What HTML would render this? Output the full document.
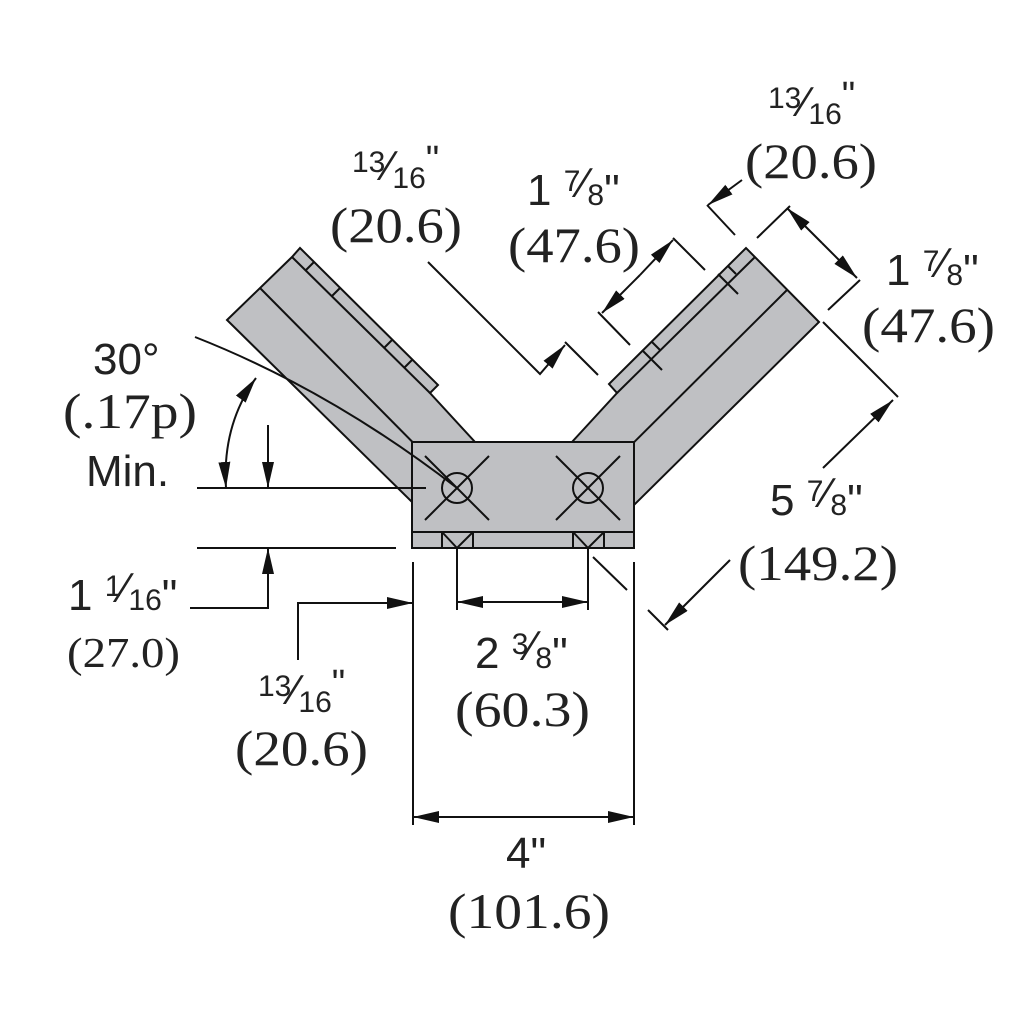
<!DOCTYPE html>
<html><head><meta charset="utf-8"><style>
html,body{margin:0;padding:0;background:#fff}
svg{display:block}
.s{font-family:"Liberation Sans",sans-serif;fill:#222}
.r{font-family:"Liberation Serif",serif;fill:#222}
</style></head><body>
<svg width="1024" height="1024" viewBox="0 0 1024 1024" xmlns="http://www.w3.org/2000/svg">
<defs>
<marker id="a" markerUnits="userSpaceOnUse" markerWidth="28" markerHeight="14" refX="26" refY="6" orient="auto-start-reverse">
<path d="M0,0 L26,6 L0,12 Z" fill="#111"/></marker>
</defs>
<g stroke="#111" stroke-width="2" fill="#bfc0c3" stroke-linejoin="miter">
<!-- left arm -->
<polygon points="227,320 292,257 300,248 438,385 430,393 475,442 412,442 412,502"/>
<line x1="292" y1="257" x2="430" y2="393"/>
<line x1="260" y1="288" x2="458" y2="488"/>
<line x1="314" y1="262" x2="306" y2="270"/><line x1="340" y1="288" x2="332" y2="296"/>
<line x1="392" y1="340" x2="384" y2="348"/><line x1="412" y1="360" x2="404" y2="368"/>
<!-- right arm -->
<polygon points="819,322 746,248 609,384 617,393 572,442 634,442 634,505"/>
<line x1="755" y1="257" x2="617" y2="393"/>
<line x1="787" y1="290" x2="588" y2="488"/>
<line x1="718" y1="274" x2="738" y2="294"/><line x1="728" y1="266" x2="736" y2="274"/>
<line x1="642" y1="350" x2="662" y2="370"/><line x1="652" y1="342" x2="660" y2="350"/>
<!-- bracket -->
<rect x="412" y="442" width="222" height="106"/>
<line x1="412" y1="532" x2="634" y2="532"/>
<line x1="442" y1="532" x2="442" y2="548"/><line x1="473" y1="532" x2="473" y2="548"/>
<line x1="573" y1="532" x2="573" y2="548"/><line x1="604" y1="532" x2="604" y2="548"/>
<polyline points="442,532 457,548 473,532" fill="none"/>
<polyline points="573,532 588,548 604,532" fill="none"/>
<circle cx="457" cy="488" r="15" fill="none"/><circle cx="588" cy="488" r="15" fill="none"/>
<line x1="425" y1="520" x2="489" y2="456"/><line x1="425" y1="456" x2="489" y2="520"/>
<line x1="556" y1="520" x2="620" y2="456"/><line x1="556" y1="456" x2="620" y2="520"/>
</g>
<g stroke="#111" stroke-width="2" fill="none">
<line x1="197" y1="488" x2="426" y2="488"/>
<line x1="197" y1="548" x2="396" y2="548"/>
<line x1="268" y1="425" x2="268" y2="488" marker-end="url(#a)"/>
<polyline points="190,608 268,608 268,548" marker-end="url(#a)"/>
<path d="M195,337 Q330,390 457,488"/>
<path d="M256,378 Q222,425 226,488" marker-start="url(#a)" marker-end="url(#a)"/>
<polyline points="298,660 298,603 413,603" marker-end="url(#a)"/>
<line x1="413" y1="562" x2="413" y2="825"/><line x1="634" y1="562" x2="634" y2="825"/>
<line x1="457" y1="548" x2="457" y2="610"/><line x1="588" y1="548" x2="588" y2="610"/>
<line x1="523" y1="602" x2="457" y2="602" marker-end="url(#a)"/>
<line x1="523" y1="602" x2="588" y2="602" marker-end="url(#a)"/>
<line x1="523" y1="817" x2="413" y2="817" marker-end="url(#a)"/>
<line x1="523" y1="817" x2="634" y2="817" marker-end="url(#a)"/>
<line x1="593" y1="557" x2="627" y2="590"/><line x1="648" y1="610" x2="668" y2="630"/>
<line x1="823" y1="322" x2="898" y2="397"/>
<line x1="823" y1="468" x2="893" y2="400" marker-end="url(#a)"/>
<line x1="730" y1="560" x2="665" y2="625" marker-end="url(#a)"/>
<polyline points="428,262 540,374 565,345" marker-end="url(#a)"/>
<line x1="565" y1="342" x2="598" y2="375"/>
<line x1="673" y1="238" x2="705" y2="270"/><line x1="598" y1="312" x2="630" y2="345"/>
<line x1="640" y1="275" x2="673" y2="240" marker-end="url(#a)"/>
<line x1="640" y1="275" x2="602" y2="313" marker-end="url(#a)"/>
<line x1="707" y1="205" x2="735" y2="235"/>
<line x1="757" y1="238" x2="790" y2="206"/>
<line x1="828" y1="310" x2="860" y2="280"/>
<line x1="742" y1="180" x2="708" y2="205" marker-end="url(#a)"/>
<line x1="822" y1="243" x2="787" y2="208" marker-end="url(#a)"/>
<line x1="822" y1="243" x2="857" y2="278" marker-end="url(#a)"/>
</g>
<g font-size="44">
<text class="s" x="352" y="172" font-size="30">13<tspan font-size="42" dy="8">⁄</tspan><tspan font-size="30" dy="8">16</tspan><tspan font-size="38" dy="-16">"</tspan></text>
<text class="r" x="330" y="242" font-size="50" textLength="132" lengthAdjust="spacingAndGlyphs">(20.6)</text>
<text class="s" x="527" y="205">1 <tspan font-size="30" dy="-14">7</tspan><tspan font-size="42" dy="6">⁄</tspan><tspan font-size="30" dy="8">8</tspan>"</text>
<text class="r" x="508" y="262" font-size="50" textLength="132" lengthAdjust="spacingAndGlyphs">(47.6)</text>
<text class="s" x="768" y="108" font-size="30">13<tspan font-size="42" dy="8">⁄</tspan><tspan font-size="30" dy="8">16</tspan><tspan font-size="38" dy="-16">"</tspan></text>
<text class="r" x="745" y="178" font-size="50" textLength="132" lengthAdjust="spacingAndGlyphs">(20.6)</text>
<text class="s" x="886" y="285">1 <tspan font-size="30" dy="-14">7</tspan><tspan font-size="42" dy="6">⁄</tspan><tspan font-size="30" dy="8">8</tspan>"</text>
<text class="r" x="862" y="342" font-size="50" textLength="133" lengthAdjust="spacingAndGlyphs">(47.6)</text>
<text class="s" x="93" y="374">30°</text>
<text class="r" x="63" y="428" font-size="50" textLength="134" lengthAdjust="spacingAndGlyphs">(.17p)</text>
<text class="s" x="86" y="486">Min.</text>
<text class="s" x="770" y="515">5 <tspan font-size="30" dy="-14">7</tspan><tspan font-size="42" dy="6">⁄</tspan><tspan font-size="30" dy="8">8</tspan>"</text>
<text class="r" x="738" y="580" font-size="50" textLength="160" lengthAdjust="spacingAndGlyphs">(149.2)</text>
<text class="s" x="68" y="610">1 <tspan font-size="30" dy="-14">1</tspan><tspan font-size="42" dy="6">⁄</tspan><tspan font-size="30" dy="8">16</tspan>"</text>
<text class="r" x="67" y="667" font-size="42" textLength="113" lengthAdjust="spacingAndGlyphs">(27.0)</text>
<text class="s" x="475" y="668">2 <tspan font-size="30" dy="-14">3</tspan><tspan font-size="42" dy="6">⁄</tspan><tspan font-size="30" dy="8">8</tspan>"</text>
<text class="r" x="455" y="726" font-size="50" textLength="135" lengthAdjust="spacingAndGlyphs">(60.3)</text>
<text class="s" x="258" y="696" font-size="30">13<tspan font-size="42" dy="8">⁄</tspan><tspan font-size="30" dy="8">16</tspan><tspan font-size="38" dy="-16">"</tspan></text>
<text class="r" x="235" y="765" font-size="50" textLength="133" lengthAdjust="spacingAndGlyphs">(20.6)</text>
<text class="s" x="506" y="868">4"</text>
<text class="r" x="448" y="928" font-size="50" textLength="162" lengthAdjust="spacingAndGlyphs">(101.6)</text>
</g>
</svg>
</body></html>
